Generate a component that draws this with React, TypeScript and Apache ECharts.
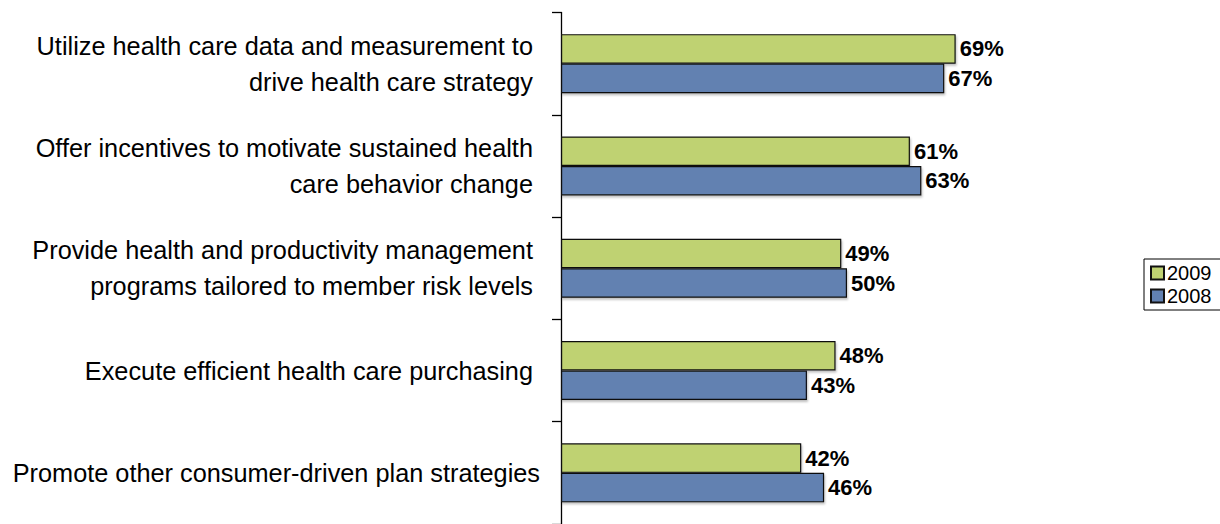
import React, { useEffect, useRef } from "react";
import * as echarts from "echarts";

const categories = [
  "Utilize health care data and measurement to \ndrive health care strategy ",
  "Offer incentives to motivate sustained health \ncare behavior change ",
  "Provide health and productivity management \nprograms tailored to member risk levels ",
  "Execute efficient health care purchasing ",
  "Promote other consumer-driven plan strategies",
];
const series2009 = [69, 61, 49, 48, 42];
const series2008 = [67, 63, 50, 43, 46];
const seriesNames = ["2009", "2008"];
const colors = ["#BFD272", "#6281B1"];

export default function App() {
  const ref = useRef<HTMLDivElement>(null);
  useEffect(() => {
    if (!ref.current) return;
    const chart = echarts.init(ref.current, null, { renderer: "svg" });
    const font = "Arial, 'Liberation Sans', sans-serif";
    const mk = (name: string, data: number[], color: string) => ({
      name,
      type: "bar",
      data,
      barWidth: 29.5,
      barGap: "0%",
      itemStyle: {
        color,
        borderColor: "#111",
        borderWidth: 1.2,
        shadowColor: "rgba(0,0,0,0.25)",
        shadowBlur: 2,
        shadowOffsetX: 1,
        shadowOffsetY: 2,
      },
      label: {
        show: true,
        position: "right",
        distance: 4,
        formatter: "{c}%",
        fontFamily: font,
        fontWeight: "bold",
        fontSize: 22,
        color: "#000",
      },
    });
    chart.setOption({
      animation: false,
      backgroundColor: "#fff",
      grid: { left: 561, top: 12.5, width: 572, height: 517, containLabel: false },
      xAxis: {
        type: "value",
        min: 0,
        max: 100,
        show: false,
      },
      yAxis: {
        type: "category",
        inverse: true,
        data: categories,
        axisLine: { show: true, lineStyle: { color: "#000", width: 1.3 } },
        axisTick: { show: true, length: 9, lineStyle: { color: "#000", width: 1.3 } },
        axisLabel: {
          margin: 21,
          fontFamily: font,
          fontSize: 25.3,
          color: "#000",
          lineHeight: 36,
          align: "right",
          padding: [4, 0, 0, 0],
        },
        splitLine: { show: false },
      },
      legend: {
        orient: "vertical",
        left: 1144,
        top: 259,
        data: seriesNames,
        borderColor: "#000",
        borderWidth: 1,
        padding: [4, 10, 4, 6],
        itemWidth: 13,
        itemHeight: 13,
        itemGap: 3,
        icon: "rect",
        textStyle: { fontFamily: font, fontSize: 20, lineHeight: 20, color: "#000", padding: [0, 0, 0, -2] },
      },
      series: [mk(seriesNames[0], series2009, colors[0]), mk(seriesNames[1], series2008, colors[1])],
    });
    return () => chart.dispose();
  }, []);
  return (
    <div
      ref={ref}
      style={{ position: "absolute", left: 0, top: 0, width: 1220, height: 524 }}
    />
  );
}
